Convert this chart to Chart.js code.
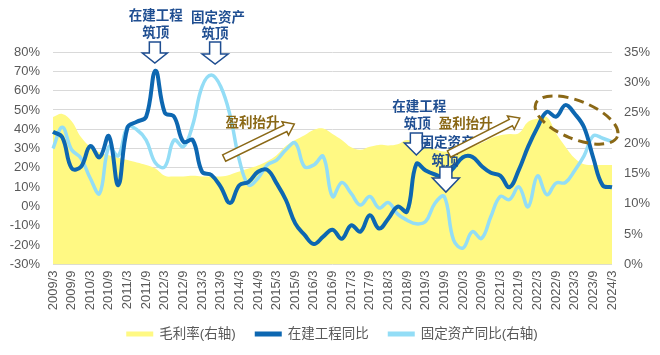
<!DOCTYPE html>
<html><head><meta charset="utf-8">
<script src="https://cdn.jsdelivr.net/npm/chart.js@4/dist/chart.umd.min.js"></script>
<style>html,body{margin:0;padding:0;background:#fff;}#wrap{width:660px;height:355px;}</style>
</head><body><div id="wrap"><canvas id="c" width="660" height="355"></canvas></div>
<script>
// Quarterly categories; every second one is shown as a tick label
const quarters = ["2009/3","2009/6","2009/9","2009/12","2010/3","2010/6","2010/9","2010/12",
"2011/3","2011/6","2011/9","2011/12","2012/3","2012/6","2012/9","2012/12",
"2013/3","2013/6","2013/9","2013/12","2014/3","2014/6","2014/9","2014/12",
"2015/3","2015/6","2015/9","2015/12","2016/3","2016/6","2016/9","2016/12",
"2017/3","2017/6","2017/9","2017/12","2018/3","2018/6","2018/9","2018/12",
"2019/3","2019/6","2019/9","2019/12","2020/3","2020/6","2020/9","2020/12",
"2021/3","2021/6","2021/9","2021/12","2022/3","2022/6","2022/9","2022/12",
"2023/3","2023/6","2023/9","2023/12","2024/3"];
const seriesNames = ["毛利率(右轴)","在建工程同比","固定资产同比(右轴)"];
// 毛利率 (right axis, %)
const grossMargin = [24.3,24.8,23.6,21,19.4,18.5,18,17.6,17.2,16.8,16.4,15.8,14.6,14.5,14.5,14.6,
14.5,14.5,14.5,14.8,15.3,15.8,16.3,17,18,19.5,20.5,21.3,22.2,22.4,21.5,20.5,
19.3,18.9,19.4,19.7,19.6,19.8,20.5,20,19.4,19,18.6,18.6,18.9,19.4,20,20.8,
21.3,21.5,21.6,23.5,24,24.3,21.6,19.4,17.5,16.5,16.4,16.4,16.4];
// 在建工程同比 (left axis, %)
const cipYoY = [38.7,35.8,19.8,20.6,31.3,25.5,36.5,11.1,41,43.9,46.5,70.3,48.6,46.5,33.5,34.4,
18,16.3,10.2,1.8,11,12.8,18,19,12,3.4,-8.7,-14.7,-19.4,-15.6,-12,-16.7,
-9.7,-13,-4.5,-11.4,-6.2,0,-2.6,22,18.6,16.6,15.6,20,25.5,25.7,21,17.5,
16,10,19,31,41,49,46.5,52.5,48,41,25,11,10];
// 固定资产同比 (right axis, %)
const fixedAssetYoY = [19.1,22.6,18.9,17.5,14.2,11.7,19.4,17.9,22.7,22.2,20.5,16.7,16.1,20.5,19.4,23,
29.3,31.2,29.3,24.6,17.2,13.1,14.2,16.4,17.2,18.9,20,16.1,16.4,17.8,11.2,13.5,
11.7,9.8,11.2,9.3,10.2,8.3,7.3,6.7,7.1,10.1,11.2,4,2.7,5.4,4.3,7.9,
11.2,10.7,12.8,9.5,14.6,11.5,13.4,13.5,15.5,17.9,21.2,20.8,20.2];
const leftTicks = {min:-30, max:80, step:10};
const rightTicks = {min:0, max:35, step:5};

const COL_Y = "#FFF983", COL_D = "#0D67B1", COL_L = "#93DDF6";
const NAVY = "#1F4E91", BROWN = "#8A6816";
const FONT = "'Liberation Sans', Arial, 'Noto Sans CJK SC', sans-serif";
const CJK = "'Noto Sans CJK SC', sans-serif";

function downArrow(ctx, cx, tip, topOff, headOff, sw, hw) {
  ctx.beginPath();
  ctx.moveTo(cx - sw/2, tip - topOff);
  ctx.lineTo(cx + sw/2, tip - topOff);
  ctx.lineTo(cx + sw/2, tip - headOff);
  ctx.lineTo(cx + hw/2, tip - headOff);
  ctx.lineTo(cx, tip);
  ctx.lineTo(cx - hw/2, tip - headOff);
  ctx.lineTo(cx - sw/2, tip - headOff);
  ctx.closePath();
  ctx.fillStyle = "#fff"; ctx.fill();
  ctx.strokeStyle = NAVY; ctx.lineWidth = 1.5; ctx.stroke();
}
function blockArrow(ctx, x1, y1, x2, y2, bw, hw, hl) {
  const a = Math.atan2(y2 - y1, x2 - x1), L = Math.hypot(x2 - x1, y2 - y1);
  ctx.save(); ctx.translate(x1, y1); ctx.rotate(a);
  ctx.beginPath();
  ctx.moveTo(0, -bw/2); ctx.lineTo(L - hl, -bw/2); ctx.lineTo(L - hl, -hw/2);
  ctx.lineTo(L, 0); ctx.lineTo(L - hl, hw/2); ctx.lineTo(L - hl, bw/2); ctx.lineTo(0, bw/2);
  ctx.closePath();
  ctx.fillStyle = "#fff"; ctx.fill();
  ctx.strokeStyle = BROWN; ctx.lineWidth = 1.5; ctx.stroke();
  ctx.restore();
}
function label(ctx, t, x, y, color) {
  ctx.font = "bold 13.5px " + CJK; ctx.fillStyle = color;
  ctx.textAlign = "center"; ctx.textBaseline = "middle";
  ctx.fillText(t, x, y);
}

const annotations = {
  id: "annotations",
  afterDatasetsDraw(chart) {
    const ctx = chart.ctx, xs = chart.scales.x, yl = chart.scales.yL;
    const P = (i, v) => [xs.getPixelForValue(i), yl.getPixelForValue(v)];
    ctx.save();
    let [x, y] = P(10.93, 74.3);
    downArrow(ctx, x, y, 21, 10, 11, 25);
    label(ctx, "在建工程", x + 1, y - 48, NAVY); label(ctx, "筑顶", x + 1, y - 31, NAVY);
    [x, y] = P(17.4, 73.8);
    downArrow(ctx, x, y, 22, 10, 11, 26);
    label(ctx, "固定资产", x + 3, y - 47, NAVY); label(ctx, "筑顶", x, y - 31, NAVY);
    let [ax, ay] = P(18.37, 25.1), [bx, by] = P(25.9, 42.7);
    blockArrow(ctx, ax, ay, bx, by, 7, 15, 10);
    [x, y] = P(21.4, 43.7); label(ctx, "盈利抬升", x, y, BROWN);
    [x, y] = P(39.0, 26.7);
    label(ctx, "在建工程", x + 3, y - 49, NAVY); label(ctx, "筑顶", x + 1, y - 32, NAVY);
    downArrow(ctx, x, y, 22, 12, 12, 24);
    [ax, ay] = P(42.5, 27.2); [bx, by] = P(50.1, 45.8);
    [x, y] = P(44.3, 43.2); label(ctx, "盈利抬升", x, y, BROWN);
    [x, y] = P(42.17, 7.5);
    label(ctx, "固定资产", x + 1.5, y - 50, NAVY); label(ctx, "筑顶", x - 1, y - 32, NAVY);
    blockArrow(ctx, ax, ay, bx, by, 7, 15, 10);
    downArrow(ctx, x, y, 25, 14, 12, 27);
    [x, y] = P(56.2, 44.8);
    ctx.beginPath(); ctx.ellipse(x, y, 44, 19, 22 * Math.PI / 180, 0, Math.PI * 2);
    ctx.setLineDash([10, 6]); ctx.strokeStyle = BROWN; ctx.lineWidth = 3; ctx.stroke();
    ctx.restore();
  }
};

// legend drawn below the x axis from the dataset labels and colours
const bottomLegend = {
  id: "bottomLegend",
  afterDraw(chart) {
    const ctx = chart.ctx, cols = [COL_Y, COL_D, COL_L];
    const bw = 27, bh = 5, gapText = 6, gapItem = 19, cy = 334;
    ctx.save();
    ctx.font = "13.5px " + FONT; ctx.textBaseline = "middle"; ctx.textAlign = "left";
    const names = chart.data.datasets.map(d => d.label);
    const widths = names.map(n => ctx.measureText(n).width);
    let total = widths.reduce((s, w) => s + w + bw + gapText, 0) + gapItem * (names.length - 1);
    let x = (chart.chartArea.left + chart.chartArea.right) / 2 - total / 2 - 0.5;
    names.forEach((n, i) => {
      ctx.fillStyle = cols[i]; ctx.fillRect(x, cy - bh / 2, bw, bh);
      x += bw + gapText;
      ctx.fillStyle = "#595959"; ctx.fillText(n, x, cy + 0.5);
      x += widths[i] + gapItem;
    });
    ctx.restore();
  }
};

new Chart(document.getElementById("c"), {
  type: "line",
  data: {
    labels: quarters,
    datasets: [
      { label: seriesNames[0], data: grossMargin, yAxisID: "yR", backgroundColor: COL_Y, borderColor: COL_Y,
        borderWidth: 0, fill: "origin", pointRadius: 0, tension: 0.4, order: 3 },
      { label: seriesNames[1], data: cipYoY, yAxisID: "yL", borderColor: COL_D, backgroundColor: COL_D,
        borderWidth: 4, fill: false, pointRadius: 0, tension: 0.4, order: 1 },
      { label: seriesNames[2], data: fixedAssetYoY, yAxisID: "yR", borderColor: COL_L, backgroundColor: COL_L,
        borderWidth: 3.5, fill: false, pointRadius: 0, tension: 0.4, order: 2 }
    ]
  },
  options: {
    responsive: false, devicePixelRatio: 1, animation: false,
    layout: { padding: { top: 52, left: 9, right: 0, bottom: 44.5 } },
    plugins: { tooltip: { enabled: false }, legend: { display: false } },
    scales: {
      x: {
        grid: { display: false, drawTicks: false }, border: { display: false },
        ticks: { autoSkip: false, minRotation: 90, maxRotation: 90, padding: 6, color: "#595959",
          font: { family: FONT, size: 13 },
          callback: (v, i) => (i % 2 === 0 ? quarters[i] : "") },
        afterFit: s => { s.height = 46; }
      },
      yL: {
        position: "left", min: leftTicks.min, max: leftTicks.max,
        grid: { color: "#D9D9D9", lineWidth: 1, drawTicks: false }, border: { display: false },
        ticks: { stepSize: leftTicks.step, padding: 13, color: "#595959", font: { family: FONT, size: 13 },
          callback: v => v + "%" },
        afterFit: s => { s.width = 44; }
      },
      yR: {
        position: "right", min: rightTicks.min, max: rightTicks.max,
        grid: { display: false, drawTicks: false }, border: { display: false },
        ticks: { stepSize: rightTicks.step, padding: 12, color: "#595959", font: { family: FONT, size: 13 },
          callback: v => v + "%" },
        afterFit: s => { s.width = 48; }
      }
    }
  },
  plugins: [annotations, bottomLegend]
});
</script></body></html>
